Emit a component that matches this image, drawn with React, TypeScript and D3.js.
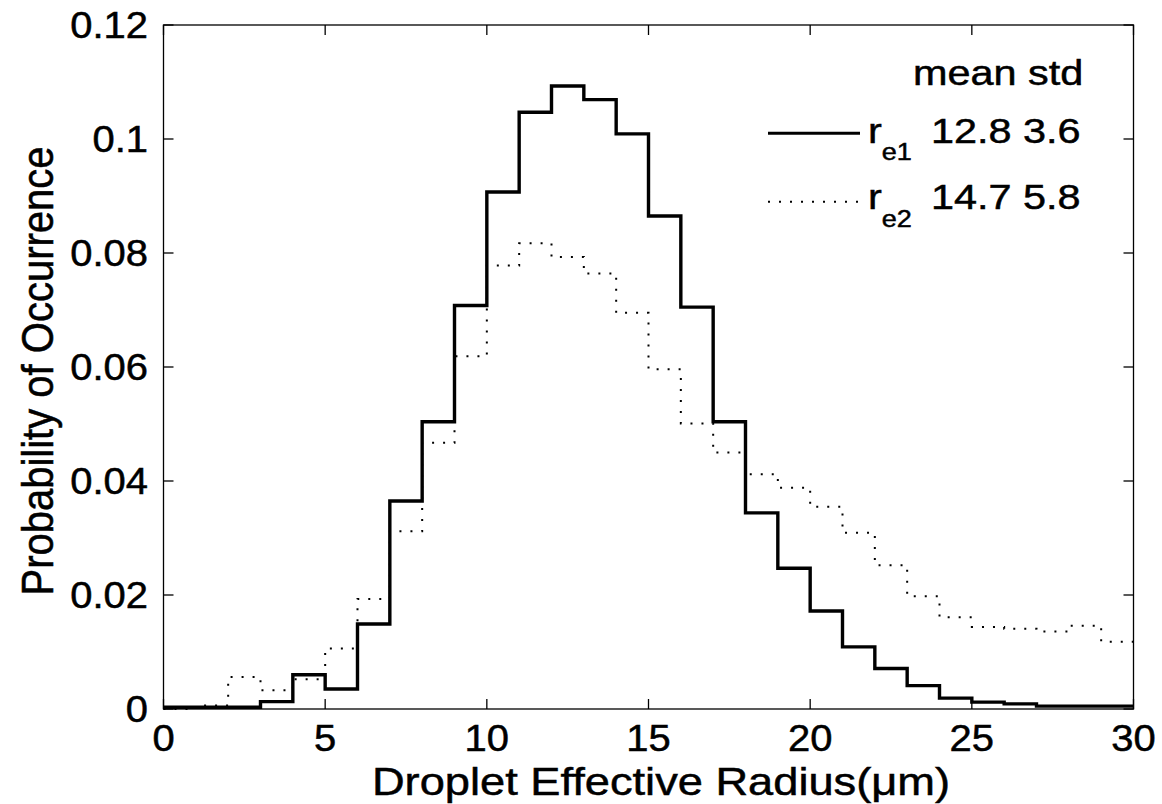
import React from "react";
import * as d3 from "d3";

const BIN_EDGES = d3.range(0, 31); // 0..30
const RE1 = [0.0003, 0.0003, 0.0003, 0.0013, 0.006, 0.0035, 0.0149, 0.0365, 0.0504, 0.0708, 0.0907, 0.1047, 0.1093, 0.1069, 0.1009, 0.0865, 0.0705, 0.0504, 0.0344, 0.0247, 0.0172, 0.0109, 0.0071, 0.0041, 0.0019, 0.0012, 0.0009, 0.0005, 0.0005, 0.0005];
const RE2 = [0.0, 0.0006, 0.0056, 0.0033, 0.0052, 0.0106, 0.0193, 0.0312, 0.0467, 0.0619, 0.0778, 0.0817, 0.0793, 0.0764, 0.0695, 0.0596, 0.0501, 0.045, 0.0412, 0.0388, 0.0355, 0.0309, 0.0252, 0.0198, 0.0161, 0.0144, 0.0141, 0.0136, 0.0146, 0.0118];
const X_TICKS = [0, 5, 10, 15, 20, 25, 30];
const Y_TICKS = [0, 0.02, 0.04, 0.06, 0.08, 0.1, 0.12];
const Y_TICK_LABELS = ["0", "0.02", "0.04", "0.06", "0.08", "0.1", "0.12"];
const LEGEND_HEADER = "mean std";
const LEGEND = [
  { sub: "e1", stats: "12.8 3.6", dash: null },
  { sub: "e2", stats: "14.7 5.8", dash: "2 9" },
];
const X_LABEL = "Droplet Effective Radius(\u03bcm)";
const Y_LABEL = "Probability of Occurrence";

const W = 1162, H = 804;
const L = 163.5, R = 1133.5, T = 25, B = 709;
const FONT = "'Liberation Sans', Arial, Helvetica, sans-serif";

function Txt({ x, y, sx = 1.1, size, anchor = "start", rotate = 0, children }: any) {
  return (
    <text
      transform={`translate(${x},${y}) scale(${sx},1)${rotate ? ` rotate(${rotate})` : ""}`}
      fontSize={size}
      fontFamily={FONT}
      textAnchor={anchor}
      fill="#000"
      stroke="#000"
      strokeWidth={0.5}
    >
      {children}
    </text>
  );
}

export default function App() {
  const x = d3.scaleLinear().domain([0, 30]).range([L, R]);
  const y = d3.scaleLinear().domain([0, 0.12]).range([B, T]);
  const line = d3
    .line<[number, number]>()
    .x((d) => x(d[0]))
    .y((d) => y(d[1]))
    .curve(d3.curveStepAfter);
  const pts = (vals: number[]) => {
    const p: [number, number][] = vals.map((v, i) => [BIN_EDGES[i], v]);
    p.push([BIN_EDGES[vals.length], vals[vals.length - 1]]);
    return p;
  };
  const tk = 10;
  const tickFont = 37;
  const tickSx = 1.08;
  return (
    <svg
      width={W}
      height={H}
      style={{ position: "absolute", left: 0, top: 0, background: "#fff" }}
    >
      <rect x={0} y={0} width={W} height={H} fill="#fff" />
      {/* data */}
      <path d={line(pts(RE2)) || ""} fill="none" stroke="#000" strokeWidth={2} strokeDasharray="2 9" />
      <path d={line(pts(RE1)) || ""} fill="none" stroke="#000" strokeWidth={3.4} />
      {/* axes box */}
      <rect x={L} y={T} width={R - L} height={B - T} fill="none" stroke="#000" strokeWidth={1.3} />
      {X_TICKS.map((t) => (
        <g key={"x" + t}>
          <line x1={x(t)} x2={x(t)} y1={B} y2={B - tk} stroke="#000" strokeWidth={1.3} />
          <line x1={x(t)} x2={x(t)} y1={T} y2={T + tk} stroke="#000" strokeWidth={1.3} />
          <Txt x={x(t)} y={751} size={tickFont} sx={tickSx} anchor="middle">{t}</Txt>
        </g>
      ))}
      {Y_TICKS.map((t, i) => (
        <g key={"y" + t}>
          <line x1={L} x2={L + tk} y1={y(t)} y2={y(t)} stroke="#000" strokeWidth={1.3} />
          <line x1={R} x2={R - tk} y1={y(t)} y2={y(t)} stroke="#000" strokeWidth={1.3} />
          <Txt x={148} y={y(t) + 13} size={tickFont} sx={tickSx} anchor="end">{Y_TICK_LABELS[i]}</Txt>
        </g>
      ))}
      {/* axis labels */}
      <Txt x={661} y={795} size={39} sx={1.16} anchor="middle">{X_LABEL}</Txt>
      <Txt x={53} y={371} size={40} sx={1.115} anchor="middle" rotate={-90}>{Y_LABEL}</Txt>
      {/* legend */}
      <Txt x={913} y={85} size={36} sx={1.15}>{LEGEND_HEADER}</Txt>
      {LEGEND.map((e, i) => {
        const by = 142.7 + i * 66.6;
        const ly = 133.3 + i * 68.4;
        return (
          <g key={e.sub}>
            <line
              x1={768}
              x2={860}
              y1={ly}
              y2={ly}
              stroke="#000"
              strokeWidth={e.dash ? 2 : 3}
              strokeDasharray={e.dash || undefined}
            />
            <Txt x={868} y={by} size={36} sx={1.15}>r</Txt>
            <Txt x={881.7} y={by + 17.5} size={23.5} sx={1.15}>{e.sub}</Txt>
            <Txt x={931} y={by} size={36} sx={1.15}>{e.stats}</Txt>
          </g>
        );
      })}
    </svg>
  );
}
